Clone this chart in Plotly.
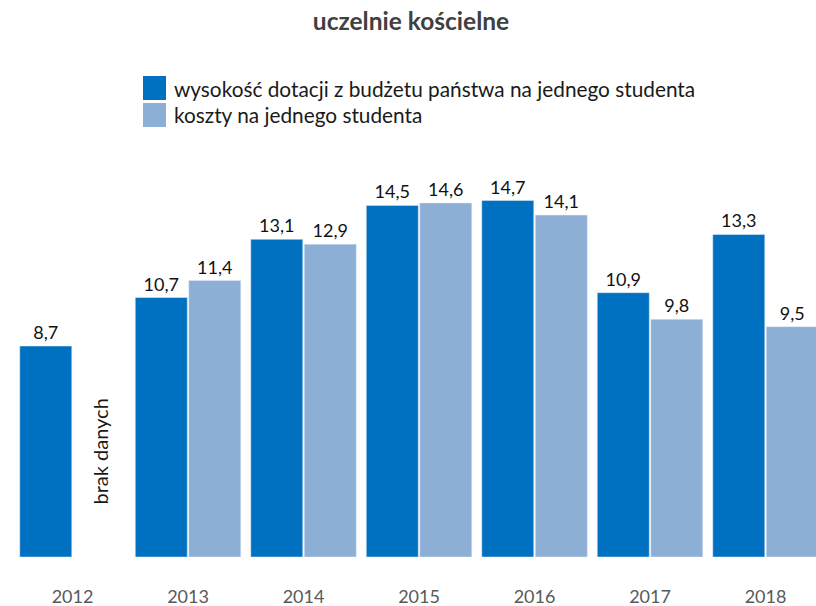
import plotly.graph_objects as go

years = ["2012", "2013", "2014", "2015", "2016", "2017", "2018"]
dotacja = [8.7, 10.7, 13.1, 14.5, 14.7, 10.9, 13.3]
koszty = [None, 11.4, 12.9, 14.6, 14.1, 9.8, 9.5]
names = ["wysokość dotacji z budżetu państwa na jednego studenta",
         "koszty na jednego studenta"]
colors = ["#0070C0", "#8DAED5"]

W, H = 816, 606
top, bottom = 140, 49
plot_h = H - top - bottom


def py(y):
    # pixel row -> paper y
    return (H - bottom - y) / plot_h


def lab(v):
    return "" if v is None else str(v).replace(".", ",")


fig = go.Figure()
for name, vals, c in zip(names, [dotacja, koszty], colors):
    fig.add_trace(go.Bar(
        x=years, y=vals, name=name, marker_color=c,
        text=[lab(v) for v in vals], textposition="outside",
        textfont=dict(size=18, color="#111111", family="Lato"),
        constraintext="none", cliponaxis=False, showlegend=False,
    ))

# legend drawn by hand (big squares)
for i, (name, c) in enumerate(zip(names, colors)):
    y0 = 76 + i * 27
    fig.add_shape(type="rect", xref="paper", yref="paper",
                  x0=143 / W, x1=166 / W, y0=py(y0 + 24), y1=py(y0),
                  fillcolor=c, line_width=0)
    fig.add_annotation(xref="paper", yref="paper", x=172 / W, y=py(y0 + 12),
                       text=name, showarrow=False, xanchor="left", yanchor="middle",
                       font=dict(size=20.8, color="#1a1a1a", family="Lato"))

fig.add_annotation(x=0, xshift=27, y=4.33, text="brak danych", textangle=-90,
                   showarrow=False, font=dict(size=20, color="#1a1a1a", family="Lato"))

fig.update_layout(
    width=W, height=H,
    margin=dict(l=0, r=0, t=top, b=bottom),
    paper_bgcolor="white", plot_bgcolor="white",
    barmode="group", bargap=0.0736, bargroupgap=0.028,
    title=dict(text="<b>uczelnie kościelne</b>", x=411 / W, xanchor="center",
               yref="container", y=1 - 21 / H, yanchor="middle",
               font=dict(size=24.5, color="#404040", family="Lato")),
    xaxis=dict(type="category", range=[-0.628, 6.437], showline=False, showgrid=False,
               zeroline=False, ticks="", ticklabelstandoff=27, automargin=False,
               tickfont=dict(size=18, color="#595959", family="Lato")),
    yaxis=dict(range=[0, plot_h / 24.25], visible=False, automargin=False),
)

fig.write_html("out.html", config={"displayModeBar": False},
               post_script="document.body.style.margin='0';")
